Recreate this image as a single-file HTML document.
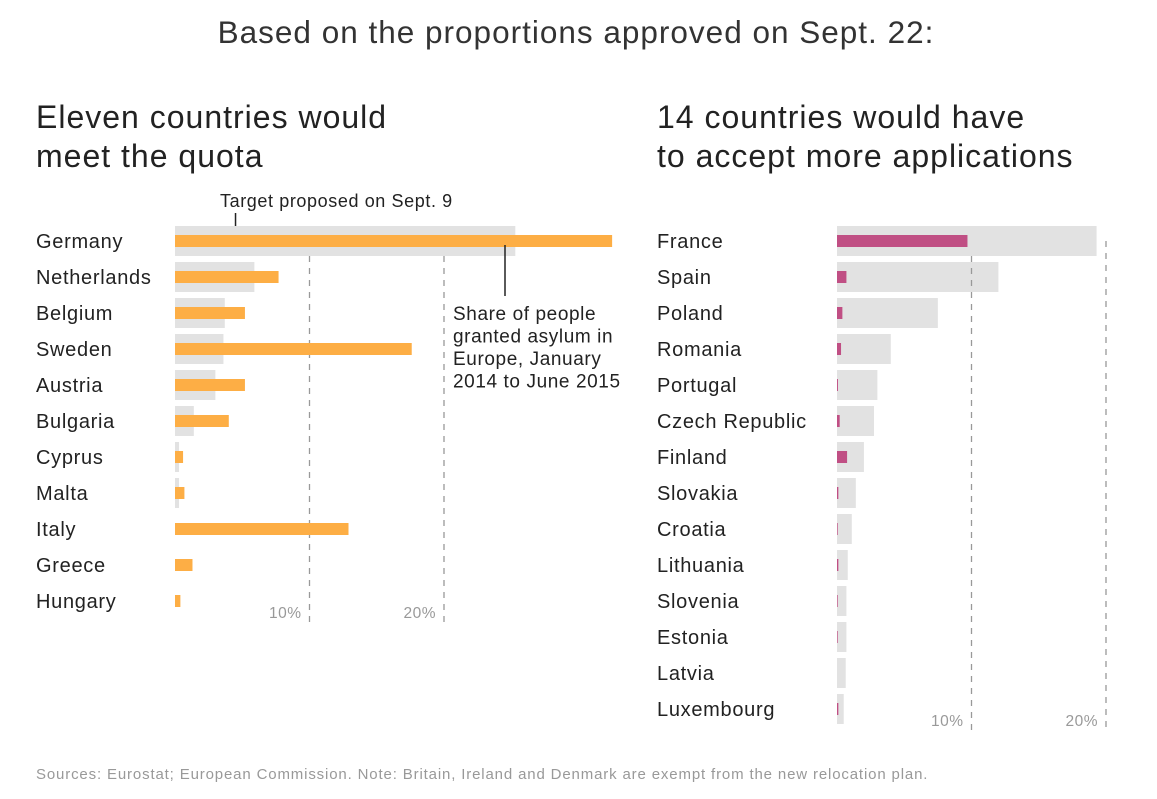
<!DOCTYPE html>
<html><head><meta charset="utf-8"><style>
body{margin:0;width:1157px;height:799px;background:#fff;font-family:"Liberation Sans",sans-serif;color:#222;position:relative;overflow:hidden}
.t{position:absolute;white-space:nowrap}
</style></head><body>
<div class="t" style="left:0;width:1152px;text-align:center;top:14px;font-size:31.5px;letter-spacing:1px;color:#333">Based on the proportions approved on Sept. 22:</div>
<div class="t" style="left:36px;top:98px;font-size:32px;line-height:39px;letter-spacing:1px;color:#222">Eleven countries would<br>meet the quota</div>
<div class="t" style="left:657px;top:98px;font-size:32px;line-height:39px;letter-spacing:1px;color:#222">14 countries would have<br>to accept more applications</div>
<div class="t" style="left:36px;top:766px;font-size:15px;letter-spacing:0.85px;color:#999">Sources: Eurostat; European Commission. Note: Britain, Ireland and Denmark are exempt from the new relocation plan.</div>
<svg id="c" width="1157" height="799" style="position:absolute;left:0;top:0"></svg>
<script>
const leftCountries=["Germany","Netherlands","Belgium","Sweden","Austria","Bulgaria","Cyprus","Malta","Italy","Greece","Hungary"];
const leftTarget=[25.3,5.9,3.7,3.6,3.0,1.4,0.3,0.3,0,0,0];
const leftShare=[32.5,7.7,5.2,17.6,5.2,4.0,0.6,0.7,12.9,1.3,0.4];
const rightCountries=["France","Spain","Poland","Romania","Portugal","Czech Republic","Finland","Slovakia","Croatia","Lithuania","Slovenia","Estonia","Latvia","Luxembourg"];
const rightTarget=[19.3,12.0,7.5,4.0,3.0,2.75,2.0,1.4,1.1,0.8,0.7,0.7,0.65,0.5];
const rightShare=[9.7,0.7,0.4,0.3,0.07,0.2,0.75,0.1,0.05,0.1,0.05,0.05,0,0.1];
const ticks=[10,20];
const tickLabels=["10%","20%"];
const svg=document.getElementById('c');const NS="http://www.w3.org/2000/svg";
function mk(t,a,txt){const e=document.createElementNS(NS,t);for(const k in a)e.setAttribute(k,a[k]);if(txt!==undefined)e.textContent=txt;svg.appendChild(e);return e;}
const PX=13.45;
function panel(x0,cats,tgt,shr,color,pre,gridTops){
  const y0=226,step=36;const x=v=>x0+v*PX;
  const bottom=y0+cats.length*step;
  cats.forEach((c,i)=>{
    const y=y0+i*step;
    const l=mk('text',{x:pre,y:y+22,'font-size':20,'letter-spacing':0.7,fill:'#222','font-family':'Liberation Sans, sans-serif'},c);
    
    
    const g=mk('rect',{x:x0,y:y,width:Math.max(0,x(tgt[i])-x0),height:30,fill:'#e2e2e2'});
    
    
  });
  ticks.forEach((t,j)=>{
    const ln=mk('line',{x1:x(t),x2:x(t),y1:gridTops[j],y2:bottom,stroke:'#999','stroke-width':1.3,'stroke-dasharray':'6,6'});
    
    
    const tl=mk('text',{x:x(t)-8,y:bottom-4,'font-size':15.5,'letter-spacing':0.5,fill:'#999','text-anchor':'end','font-family':'Liberation Sans, sans-serif'},tickLabels[j]);
    
    
  });
  cats.forEach((c,i)=>{
    const y=y0+i*step;
    const b=mk('rect',{x:x0,y:y+9,width:Math.max(0,x(shr[i])-x0),height:12,fill:color});
    
    
  });
  return x;
}
const lx=panel(175,leftCountries,leftTarget,leftShare,'#fdae45',36,[256,256]);
const rx=panel(837,rightCountries,rightTarget,rightShare,'#c04f84',657,[256,241]);
let a=mk('line',{x1:lx(4.5),x2:lx(4.5),y1:213,y2:226,stroke:'#222','stroke-width':1.5});

a=mk('text',{x:220,y:207,'font-size':18,'letter-spacing':0.6,fill:'#222','font-family':'Liberation Sans, sans-serif'},'Target proposed on Sept. 9');

a=mk('line',{x1:505,x2:505,y1:245,y2:296,stroke:'#222','stroke-width':1.5});

["Share of people","granted asylum in","Europe, January","2014 to June 2015"].forEach((s,i)=>{
  const e=mk('text',{x:453,y:320+i*22.5,'font-size':19,'letter-spacing':0.6,fill:'#222','font-family':'Liberation Sans, sans-serif'},s);
  
  
});
</script>
</body></html>
